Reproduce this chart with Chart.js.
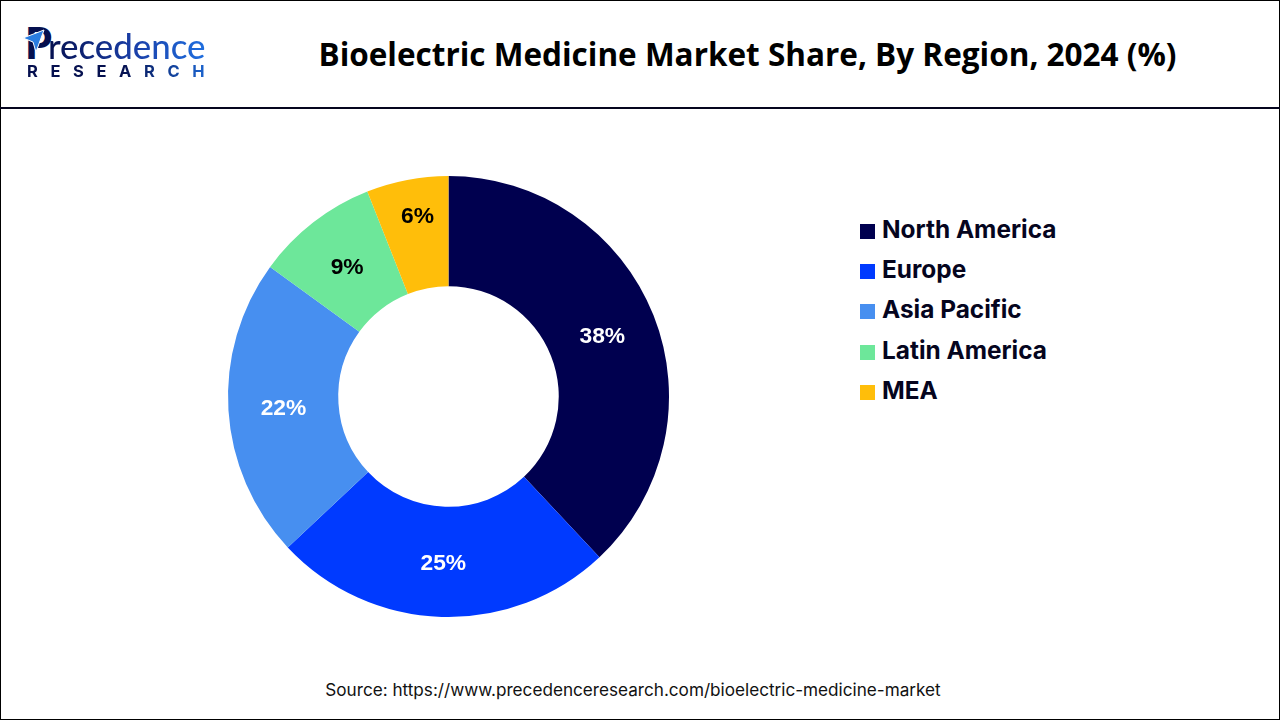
<!DOCTYPE html>
<html>
<head>
<meta charset="utf-8">
<title>Bioelectric Medicine Market Share</title>
<script src="https://cdn.jsdelivr.net/npm/chart.js@4"></script>
<style>
  html, body { margin: 0; padding: 0; background: #fff; }
  #page { position: relative; width: 1280px; height: 720px; overflow: hidden; background: #fff; }
  #frame { position: absolute; left: 0; top: 0; width: 1278px; height: 718px; border: 1px solid #000; }
  #rule { position: absolute; left: 0; top: 107px; width: 1280px; height: 2px; background: #05051e; }
  #title { position: absolute; left: 300px; width: 895px; top: 32px; text-align: center; white-space: nowrap;
    font: 700 31.5px "Open Sans", sans-serif; color: #000; }
  #chartBox { position: absolute; left: 218px; top: 166px; width: 461px; height: 461px; }
  #legend { position: absolute; left: 860px; top: 208px; font: 700 24.4px Inter, sans-serif; color: #05051e; }
  #legend div { height: 40.2px; line-height: 42px; white-space: nowrap; }
  #legend i { display: inline-block; width: 15px; height: 15px; margin-right: 7px; vertical-align: -1px; }
  #source { position: absolute; left: 0; width: 1266px; top: 679px; text-align: center;
    font: 400 17.15px Inter, sans-serif; color: #111; }
  #logoP { position: absolute; left: 25px; top: 20px; font: 900 43px Lato, sans-serif; color: #05104f; line-height: 46px; }
  #logoWord { position: absolute; left: 48px; top: 22.6px; font: 500 34.8px Lato, sans-serif; line-height: 46px;
    background: linear-gradient(90deg, #05104f, #1a3fa8 55%, #1f6fe0); -webkit-background-clip: text; background-clip: text; color: transparent; }
  #logoSub { position: absolute; left: 27px; top: 62px; font: 700 16.5px Inter, sans-serif; line-height: 18px; letter-spacing: 12.6px;
    background: linear-gradient(90deg, #05104f 50%, #1f6fe0); -webkit-background-clip: text; background-clip: text; color: transparent; }
  #logoMark { position: absolute; left: 22px; top: 28px; }
</style>
</head>
<body>
<div id="page">
  <div id="frame"></div>
  <div id="rule"></div>
  <div id="logoP">P</div>
  <div id="logoWord">recedence</div>
  <div id="logoSub">RESEARCH</div>
  <svg id="logoMark" width="24" height="26"><polygon points="1,10 22,2 14,24 11,14" fill="#2a7de1" stroke="#fff" stroke-width="1"/></svg>
  <div id="title">Bioelectric Medicine Market Share, By Region, 2024 (%)</div>
  <div id="chartBox"><canvas id="donut"></canvas></div>
  <div id="legend"></div>
  <div id="source">Source: https://www.precedenceresearch.com/bioelectric-medicine-market</div>
</div>
<script>
const regions = ["North America", "Europe", "Asia Pacific", "Latin America", "MEA"];
const shares = [38, 25, 22, 9, 6];
const sliceColors = ["#00004f", "#003aff", "#478ff0", "#6de79a", "#ffbe0a"];
const labelColors = ["#fff", "#fff", "#fff", "#000", "#000"];

// percent labels in the middle of each ring slice
const sliceLabels = {
  id: "sliceLabels",
  afterDatasetsDraw(chart) {
    const ctx = chart.ctx;
    ctx.save();
    ctx.font = "700 22.8px 'Liberation Sans'";
    ctx.textAlign = "center";
    ctx.textBaseline = "middle";
    chart.getDatasetMeta(0).data.forEach((arc, i) => {
      const pos = arc.tooltipPosition();
      // the MEA label sits higher up in its slice
      const lift = i === 4 ? 17 : -1.5;
      ctx.fillStyle = labelColors[i];
      ctx.fillText(shares[i] + "%", pos.x, pos.y - lift);
    });
    ctx.restore();
  }
};

new Chart("donut", {
  type: "doughnut",
  data: {
    labels: regions,
    datasets: [{
      data: shares,
      backgroundColor: sliceColors,
      borderWidth: 0
    }]
  },
  options: {
    responsive: true,
    maintainAspectRatio: false,
    animation: false,
    cutout: "50%",
    layout: { padding: 10 },
    plugins: {
      legend: { display: false },
      tooltip: { enabled: false }
    }
  },
  plugins: [sliceLabels]
});

// legend list
const legend = document.getElementById("legend");
regions.forEach((name, i) => {
  const row = document.createElement("div");
  const box = document.createElement("i");
  box.style.background = sliceColors[i];
  row.appendChild(box);
  row.appendChild(document.createTextNode(name));
  legend.appendChild(row);
});
</script>
</body>
</html>
